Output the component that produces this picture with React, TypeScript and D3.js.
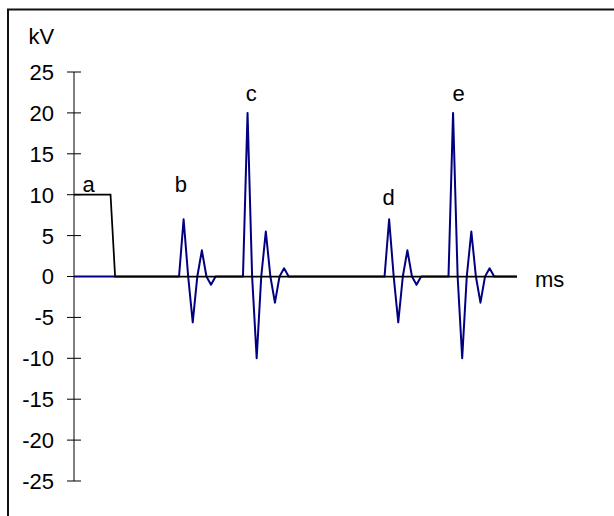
import React from 'react'
import * as d3 from 'd3'

// sample values, kV, one per time step (ms)
const pulseKV = [
  0, 0, 0, 0, 0, 0, 0, 0, 0, 0,
  0, 0, 0, 0, 0, 0, 0, 0, 0, 0,
  0, 0, 0, 0, 7, 0, -5.6, 0, 3.2, 0,
  -1, 0, 0, 0, 0, 0, 0, 0, 20, 0,
  -10, 0, 5.5, 0, -3.2, 0, 1, 0, 0, 0,
  0, 0, 0, 0, 0, 0, 0, 0, 0, 0,
  0, 0, 0, 0, 0, 0, 0, 0, 0, 7,
  0, -5.6, 0, 3.2, 0, -1, 0, 0, 0, 0,
  0, 0, 0, 20, 0, -10, 0, 5.5, 0, -3.2,
  0, 1, 0, 0, 0, 0, 0, 0,
]

const triggerKV = [
  10, 10, 10, 10, 10, 10, 10, 10, 10, 0,
  0, 0, 0, 0, 0, 0, 0, 0, 0, 0,
  0, 0, 0, 0, 0, 0, 0, 0, 0, 0,
  0, 0, 0, 0, 0, 0, 0, 0, 0, 0,
  0, 0, 0, 0, 0, 0, 0, 0, 0, 0,
  0, 0, 0, 0, 0, 0, 0, 0, 0, 0,
  0, 0, 0, 0, 0, 0, 0, 0, 0, 0,
  0, 0, 0, 0, 0, 0, 0, 0, 0, 0,
  0, 0, 0, 0, 0, 0, 0, 0, 0, 0,
  0, 0, 0, 0, 0, 0, 0, 0,
]

const yTicks = [25, 20, 15, 10, 5, 0, -5, -10, -15, -20, -25]

// annotation letters, placed in data units (step, kV)
const markLetters = ['a', 'b', 'c', 'd', 'e']
const markSteps = [3.2, 23.4, 38.8, 68.9, 84.2]
const markValues = [10.3, 10.3, 21.4, 8.7, 21.4]

export default function App() {
  const x = d3.scaleLinear().domain([0, pulseKV.length - 1]).range([74, 517])
  const y = d3.scaleLinear().domain([-25, 25]).range([481, 72])

  const line = d3.line<number>()
    .x((_, i) => x(i))
    .y(d => y(d))

  const font = '"Liberation Sans", Arial, sans-serif'
  const fs = 22

  return (
    <svg
      width={614}
      height={516}
      style={{position: 'absolute', left: 0, top: 0, display: 'block', background: '#fff'}}
      fontFamily={font}>
      {/* chart frame, runs off right and bottom */}
      <rect x={8} y={9.5} width={700} height={600} fill="none" stroke="#111" strokeWidth={2} />

      {/* y axis */}
      <line x1={74} x2={74} y1={y(25)} y2={y(-25)} stroke="#000" strokeWidth={1} />
      {yTicks.map(t => (
        <g key={t}>
          <line x1={67} x2={81} y1={y(t)} y2={y(t)} stroke="#000" strokeWidth={1} />
          <text x={54} y={y(t)} dy="0.36em" textAnchor="end" fontSize={fs}>{t}</text>
        </g>
      ))}

      {/* x axis */}
      <line x1={x(0)} x2={x(pulseKV.length - 1)} y1={y(0)} y2={y(0)} stroke="#000" strokeWidth={1} />

      <path d={line(pulseKV) ?? ''} fill="none" stroke="#000080" strokeWidth={2} strokeLinejoin="round" />
      <path d={line(triggerKV) ?? ''} fill="none" stroke="#000" strokeWidth={1.75} />

      {markLetters.map((m, i) => (
        <text key={m} x={x(markSteps[i])} y={y(markValues[i])} textAnchor="middle" fontSize={fs}>{m}</text>
      ))}

      <text x={28.5} y={43.5} fontSize={fs}>kV</text>
      <text x={535} y={286.5} fontSize={fs}>ms</text>
    </svg>
  )
}
